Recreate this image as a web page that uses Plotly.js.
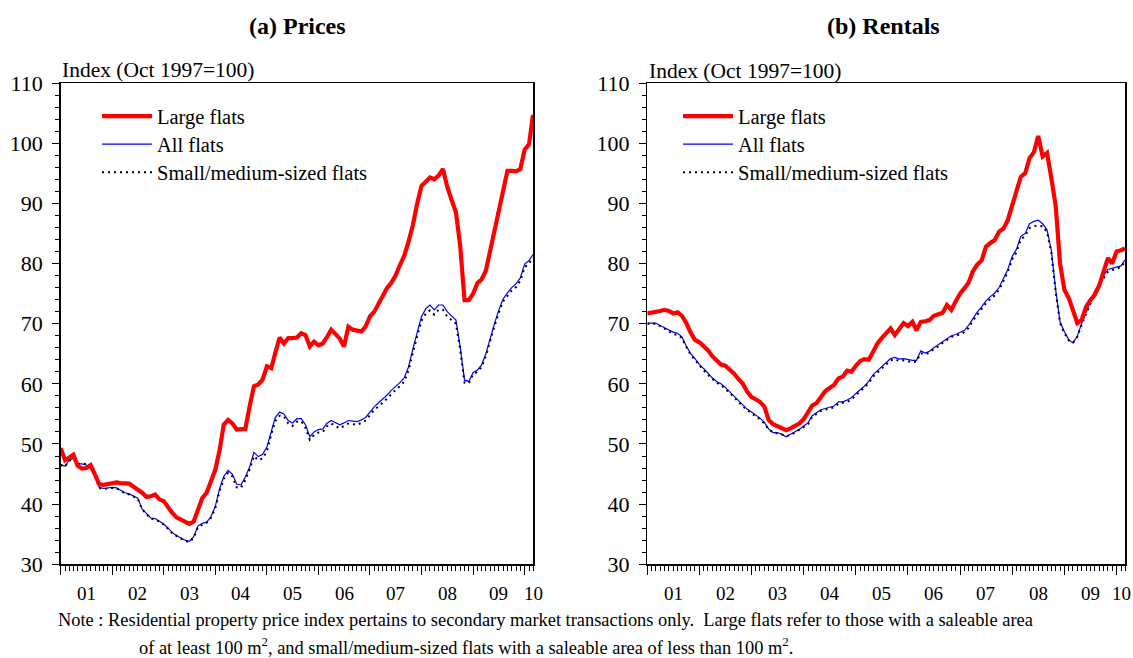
<!DOCTYPE html>
<html><head><meta charset="utf-8">
<script src="https://cdn.plot.ly/plotly-3.0.1.min.js"></script>
<style>html,body{margin:0;padding:0;background:#fff}#chart{width:1133px;height:658px}</style>
</head><body><div id="chart"></div>
<script>
// Monthly data, Jan 2001 .. Mar 2010
const START_YEAR = 2001;
const seriesNames = ['Large flats', 'All flats', 'Small/medium-sized flats'];
const panelTitles = ['(a) Prices', '(b) Rentals'];
const axisTitle = 'Index (Oct 1997=100)';
const yearLabels = ['01','02','03','04','05','06','07','08','09','10'];
const yearLabelDates = ['2001-07-01','2002-07-01','2003-07-01','2004-07-01','2005-07-01',
  '2006-07-01','2007-07-01','2008-07-01','2009-07-01','2010-03-01'];

const pricesLarge = [49.3,47.3,47.7,48.2,46.4,45.9,46.0,46.5,44.9,43.3,43.2,43.3,
  43.4,43.6,43.5,43.5,43.4,42.9,42.5,41.9,41.2,41.3,41.6,40.8,
  40.5,39.4,38.6,37.8,37.4,37.1,36.7,37.1,38.9,41.0,41.9,44.0,
  45.7,49.0,53.2,54.0,53.4,52.4,52.5,52.5,56.3,59.6,59.9,60.7,
  62.9,62.6,65.1,67.7,66.7,67.6,67.6,67.7,68.4,68.1,66.2,67.0,
  66.4,66.7,67.7,69.0,68.3,67.5,66.2,69.5,69.0,68.8,68.7,69.5,
  71.2,72.0,73.2,74.3,75.9,76.8,78.0,79.7,81.3,83.6,86.4,89.9,
  92.9,93.6,94.3,94.0,94.6,95.7,92.8,90.6,88.5,83.0,73.9,73.9,
  75.0,76.8,77.3,78.8,82.0,85.0,88.3,91.8,95.4,95.4,95.3,95.7,
  98.9,99.8,104.7];
const pricesAll = [46.6,46.3,47.3,47.6,46.7,46.7,46.5,46.0,44.8,42.8,42.6,42.7,
  42.8,42.7,42.3,41.9,41.7,41.4,41.0,39.2,38.4,37.7,37.6,37.2,
  36.7,36.0,35.3,34.8,34.4,34.0,33.8,34.6,36.4,36.8,37.0,37.9,
  39.6,42.6,44.6,45.6,45.0,43.3,43.2,44.5,46.2,48.6,47.9,48.3,
  49.5,52.2,54.4,55.3,55.0,53.9,53.5,54.2,54.2,53.2,51.2,52.0,
  52.4,52.5,53.4,53.9,53.5,53.2,53.5,53.9,53.8,53.7,54.0,54.4,
  55.3,56.2,56.8,57.4,58.1,58.9,59.5,60.2,61.0,62.8,65.8,68.4,
  71.2,72.5,73.1,72.3,73.1,73.1,72.0,71.3,70.6,66.2,60.6,60.4,
  61.9,62.3,63.1,65.0,67.7,70.0,72.2,74.1,75.1,76.0,76.6,77.6,
  79.9,80.5,81.5];
const pricesSmall = [46.5,46.2,47.2,47.5,46.6,46.8,46.6,46.0,44.7,42.7,42.5,42.6,
  42.7,42.6,42.2,41.8,41.6,41.3,40.9,39.1,38.3,37.6,37.5,37.1,
  36.6,35.9,35.2,34.7,34.3,33.9,33.7,34.4,36.2,36.6,36.9,37.7,
  39.3,42.2,44.2,45.2,44.6,42.8,42.7,44.0,45.8,48.0,47.3,47.6,
  48.8,51.6,53.8,54.7,54.6,53.4,53.0,53.7,53.8,52.7,50.7,51.5,
  51.9,52.0,52.9,53.4,53.0,52.6,53.0,53.4,53.3,53.2,53.5,53.9,
  54.8,55.7,56.2,56.8,57.5,58.3,58.9,59.6,60.4,62.2,65.2,67.8,
  70.5,71.7,72.2,71.5,72.3,72.3,71.2,70.6,70.0,65.7,60.2,60.1,
  61.6,62.0,62.8,64.6,67.3,69.6,71.8,73.7,74.6,75.5,76.1,77.1,
  79.4,80.0,81.0];

const rentsLarge = [71.7,71.8,71.9,72.1,72.3,72.1,71.7,71.9,71.3,70.1,68.5,67.3,
  66.9,66.2,65.6,64.6,63.8,63.2,63.0,62.4,61.7,60.8,60.0,58.7,
  57.8,57.4,57.0,56.2,54.0,53.3,53.0,52.6,52.3,52.6,53.0,53.4,
  54.1,55.2,56.4,56.8,57.9,58.8,59.3,59.8,60.9,61.2,62.2,62.0,
  63.0,63.8,64.1,64.0,65.3,66.7,67.6,68.4,69.2,68.1,69.2,70.1,
  69.6,70.3,68.9,70.3,70.4,70.6,71.3,71.6,71.8,73.1,72.3,73.7,
  75.0,75.9,76.8,78.7,79.8,80.5,82.8,83.4,83.9,85.3,85.8,87.2,
  89.6,92.0,94.4,95.0,97.5,98.5,101.2,97.8,98.4,94.2,89.5,80.0,
  75.6,74.2,72.0,70.1,70.6,72.8,73.9,74.8,76.3,78.5,80.9,80.0,
  82.0,82.2,82.5];
const rentsAll = [70.1,70.1,70.1,69.7,69.3,68.9,68.6,68.4,67.8,66.3,65.0,64.2,
  63.2,62.5,61.7,61.0,60.4,60.0,59.4,58.7,58.0,57.2,56.5,55.8,
  55.3,54.8,54.3,53.6,52.5,51.9,51.9,51.6,51.2,51.6,52.0,52.4,
  53.0,53.5,54.7,55.2,55.7,55.9,56.1,56.3,57.0,57.0,57.3,57.7,
  58.4,59.0,59.6,60.4,61.5,62.2,62.9,63.6,64.2,64.4,64.1,64.2,
  64.0,63.9,63.9,65.5,65.1,65.4,66.0,66.5,67.1,67.6,68.0,68.2,
  68.5,68.9,69.7,70.9,71.9,72.8,73.8,74.5,75.1,76.0,77.5,79.0,
  81.2,82.4,84.5,85.0,86.6,87.0,87.2,86.6,85.6,82.2,75.5,70.3,
  68.6,67.3,66.8,67.9,70.0,71.7,73.6,75.4,76.7,78.0,79.0,79.2,
  79.4,79.6,80.6];
const rentsSmall = [70.0,70.0,70.0,69.6,69.2,68.7,68.3,68.1,67.6,66.1,64.8,64.0,
  63.0,62.2,61.5,60.8,60.2,59.8,59.2,58.5,57.8,57.0,56.3,55.6,
  55.1,54.6,54.1,53.4,52.4,51.9,51.8,51.6,51.3,51.5,51.9,52.3,
  52.8,53.3,54.5,55.0,55.5,55.7,55.9,56.1,56.7,56.8,57.0,57.4,
  58.1,58.7,59.3,60.1,61.2,61.9,62.6,63.3,63.9,64.1,63.8,63.9,
  63.7,63.6,63.7,65.1,64.9,65.2,65.8,66.2,66.8,67.3,67.8,68.0,
  68.2,68.6,69.3,70.5,71.5,72.4,73.4,74.1,74.7,75.6,77.1,78.6,
  80.7,81.9,84.0,84.6,85.9,86.2,86.3,86.2,85.2,81.8,75.2,70.1,
  68.4,67.2,66.8,67.8,69.8,71.5,73.3,75.1,76.4,77.6,78.6,78.9,
  79.2,79.4,80.3];

const months = pricesLarge.map((_, i) => {
  const y = START_YEAR + Math.floor(i / 12);
  const m = (i % 12) + 1;
  return y + '-' + String(m).padStart(2, '0') + '-01';
});

const FONT = '"Liberation Serif", "Times New Roman", serif';
const W = 1133, H = 658;
const px = v => v / W, py = v => 1 - v / H;

function tr(name, y, xa, ya, leg, line, rank) {
  return {type: 'scatter', mode: 'lines', x: months, y: y,
    name: '<span style="font-size:20.5px">' + name + '</span>',
    xaxis: xa, yaxis: ya, legend: leg, legendrank: rank,
    line: line, hoverinfo: 'skip'};
}
const lAll = {color: '#0000ff', width: 1.2};
const lSmall = {color: '#000000', width: 2, dash: '2px,4px'};
const lLarge = {color: '#ff0000', width: 4.2};

const data = [
  tr(seriesNames[1], pricesAll, 'x', 'y', 'legend', lAll, 2),
  tr(seriesNames[2], pricesSmall, 'x', 'y', 'legend', lSmall, 3),
  tr(seriesNames[0], pricesLarge, 'x', 'y', 'legend', lLarge, 1),
  tr(seriesNames[1], rentsAll, 'x2', 'y2', 'legend2', lAll, 2),
  tr(seriesNames[2], rentsSmall, 'x2', 'y2', 'legend2', lSmall, 3),
  tr(seriesNames[0], rentsLarge, 'x2', 'y2', 'legend2', lLarge, 1)
];

function xax(dom, anchor) {
  return {domain: dom, anchor: anchor, type: 'date', range: ['2001-01-01', '2010-03-01'],
    dtick: 'M12', tick0: '2001-01-01', showticklabels: false,
    ticks: 'outside', ticklen: 9, tickwidth: 1, tickcolor: '#000',
    showline: true, linecolor: '#000', linewidth: 1.5, mirror: true,
    showgrid: false, zeroline: false,
    minor: {dtick: 'M1', tick0: '2001-01-01', ticks: 'outside', ticklen: 5, tickwidth: 1, tickcolor: '#000', showgrid: false},
    fixedrange: true};
}
function yax(anchor) {
  return {domain: [py(564.3), py(83)], anchor: anchor, range: [30, 110], dtick: 10,
    ticks: 'outside', ticklen: 7, tickwidth: 1, tickcolor: '#000',
    ticklabelstandoff: 5,
    showline: true, linecolor: '#000', linewidth: 1.5, mirror: true,
    showgrid: false, zeroline: false,
    tickfont: {family: FONT, size: 22, color: '#000'},
    minor: {dtick: 2, ticks: 'outside', ticklen: 4, tickwidth: 1, tickcolor: '#000', showgrid: false},
    fixedrange: true};
}
function leg(x) {
  return {x: px(x), y: py(97), xanchor: 'left', yanchor: 'top',
    bgcolor: 'rgba(0,0,0,0)', borderwidth: 0, itemwidth: 50,
    font: {family: FONT, size: 19.3, color: '#000'}};
}

const ann = [];
function A(text, x, y, size, anchor) {
  ann.push({text: text, x: x, y: y, xref: 'paper', yref: 'paper', showarrow: false,
    xanchor: anchor, yanchor: 'middle', font: {family: FONT, size: size, color: '#000'}});
}
A('<b>' + panelTitles[0] + '</b>', px(297), py(26), 24, 'center');
A('<b>' + panelTitles[1] + '</b>', px(884), py(26), 24, 'center');
A(axisTitle, px(60), py(70), 21.5, 'left');
A(axisTitle, px(647), py(71), 21.5, 'left');
A('Note : Residential property price index pertains to secondary market transactions only.  Large flats refer to those with a saleable area',
  px(56), py(620), 18.4, 'left');
A('of at least 100 m<sup>2</sup>, and small/medium-sized flats with a saleable area of less than 100 m<sup>2</sup>.',
  px(137), py(646), 18.4, 'left');
// year labels on both time axes
['x', 'x2'].forEach(xr => {
  yearLabels.forEach((t, i) => {
    const last = i === yearLabels.length - 1;
    ann.push({text: t, x: yearLabelDates[i], y: py(593), xref: xr, yref: 'paper', showarrow: false,
      xanchor: 'center', yanchor: 'middle', xshift: (last && xr === 'x2') ? -4 : 0,
      font: {family: FONT, size: 19, color: '#000'}});
  });
});

const layout = {
  width: W, height: H, margin: {l: 0, r: 0, t: 0, b: 0},
  paper_bgcolor: '#fff', plot_bgcolor: '#fff',
  font: {family: FONT, color: '#000'},
  xaxis: xax([px(60.7), px(533)], 'y'),
  yaxis: yax('x'),
  xaxis2: xax([px(647.3), px(1125)], 'y2'),
  yaxis2: yax('x2'),
  legend: leg(97),
  legend2: leg(678),
  showlegend: true,
  annotations: ann
};

Plotly.newPlot('chart', data, layout, {displayModeBar: false, staticPlot: true});
</script></body></html>
